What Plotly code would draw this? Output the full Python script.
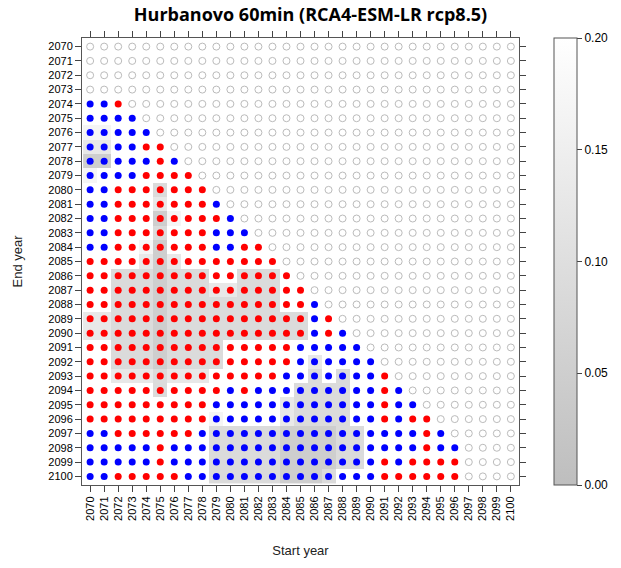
import plotly.graph_objects as go

# ---------------- data ----------------
years = list(range(2070, 2101))          # start years (x) and end years (y)
tick_labels = [str(y) for y in years]
cbar_ticks = [0.00, 0.05, 0.10, 0.15, 0.20]

# sign of the trend for each tested window; one string per end year,
# characters run over start years 2070, 2071, ...  (B = blue, R = red)
trend_sign = {
    2074: "BBR",
    2075: "BBBB",
    2076: "BBBBB",
    2077: "BBBBRR",
    2078: "BBBBBRB",
    2079: "BBBBRRRR",
    2080: "BBRRRRRRR",
    2081: "BBRRRRRRRB",
    2082: "BBRRRRRRRRB",
    2083: "BBRRRRRRRBBB",
    2084: "BBRRRRRRRBBRR",
    2085: "RRRRRRRRRRRRRR",
    2086: "RRRRRRRRRRRRRRR",
    2087: "RRRRRRRRRRRRRRRR",
    2088: "RRRRRRRRRRRRRRRRB",
    2089: "RRRRRRRRRRRRRRRRBR",
    2090: "RRRRRRRRRRRRRRRRBRB",
    2091: "RRRRRRRRRRRRRRRBBBBB",
    2092: "RRRRRRRRRRRRRRRBBBBBB",
    2093: "RRRRRRRRRRRRRRBBBBBBBR",
    2094: "RRRRRRRRRRBRBBBBBBBBBRB",
    2095: "RRRRRRRRRBBBBBBBBBBBBRBB",
    2096: "RRRRRRRRRBBBBBBBBBBBBRBRR",
    2097: "BBRRRRRRBBBBBBBBBBBBBBBBRB",
    2098: "BBBBBRBBBBBBBBBBBBBBBBBBRBB",
    2099: "BBBBBRBBBBBBBBBBBBBBBRBRRRR",
    2100: "BBRRRRRBBBBBBBBBBBBBBRRRRRR",
}

# p-value class of each window (same layout as above)
p_class = {
    2074: "...",
    2075: "....",
    2076: "11...",
    2077: "22....",
    2078: "44.....",
    2079: "1.......",
    2080: ".....3...",
    2081: ".....2....",
    2082: ".....41....",
    2083: ".....3......",
    2084: "....14.......",
    2085: "....242.......",
    2086: "..3334333..333.",
    2087: "..333433322333..",
    2088: "..333433333333...",
    2089: "2233343333333333..",
    2090: "2233343333333333...",
    2091: "..33343333..........",
    2092: "..33343333......2....",
    2093: "..2223222.......3.3...",
    2094: ".....3.........3333....",
    2095: "..............23333.....",
    2096: ".........1....23333......",
    2097: ".........33333444433......",
    2098: ".........33333444433.......",
    2099: ".........33333444433.......",
    2100: ".........333334443..........",
}
p_level = {'.': 0.20, '1': 0.17, '2': 0.13, '3': 0.09, '4': 0.05, '5': 0.03}

# ---------------- build ----------------
z = []
for e in years:
    row = []
    signs = trend_sign.get(e, "")
    cls = p_class.get(e, "")
    for i, s in enumerate(years):
        if i < len(signs):
            row.append(p_level[cls[i]] if i < len(cls) else 0.2)
        else:
            row.append(None)
    z.append(row)

bx, by, rx, ry, ox, oy = [], [], [], [], [], []
for e in years:
    signs = trend_sign.get(e, "")
    for i, s in enumerate(years):
        if i < len(signs):
            if signs[i] == "B":
                bx.append(s); by.append(e)
            else:
                rx.append(s); ry.append(e)
        else:
            ox.append(s); oy.append(e)

FONT = "Liberation Sans, Arial"

fig = go.Figure()
fig.add_trace(go.Heatmap(
    x=years, y=years, z=z, zmin=0, zmax=0.2,
    colorscale=[[0, "#BEBEBE"], [1, "#FFFFFF"]],
    hoverinfo="skip",
    colorbar=dict(
        x=1.081, xanchor="left", y=0.5, yanchor="middle",
        len=1.0, lenmode="fraction", thickness=23,
        xpad=0, ypad=0,
        outlinecolor="#555555", outlinewidth=1,
        tickvals=cbar_ticks, tickformat=".2f",
        ticks="outside", ticklen=5, tickcolor="#444444",
        tickfont=dict(family=FONT, size=12, color="#000000"),
    ),
))
fig.add_trace(go.Scatter(x=ox, y=oy, mode="markers", hoverinfo="skip",
                         marker=dict(size=7, color="#BBBBBB", symbol="circle-open",
                                     line=dict(color="#BBBBBB", width=1))))
fig.add_trace(go.Scatter(x=bx, y=by, mode="markers", hoverinfo="skip",
                         marker=dict(size=7, color="#0000FF", line=dict(width=0))))
fig.add_trace(go.Scatter(x=rx, y=ry, mode="markers", hoverinfo="skip",
                         marker=dict(size=7, color="#FF0000", line=dict(width=0))))

axis_common = dict(
    tickmode="array", tickvals=years, ticktext=tick_labels,
    ticks="outside", ticklen=6, tickcolor="#444444",
    showline=True, linecolor="#555555", linewidth=1, mirror="ticks",
    showgrid=False, zeroline=False,
    tickfont=dict(family=FONT, size=11, color="#000000"),
)
fig.update_xaxes(range=[2069.42, 2100.58], tickangle=-90,
                 title=dict(text="Start year", standoff=26,
                            font=dict(family=FONT, size=13, color="#222222")),
                 **axis_common)
fig.update_yaxes(range=[2100.6, 2069.4],
                 title=dict(text="End year", standoff=22,
                            font=dict(family=FONT, size=13, color="#222222")),
                 **axis_common)

fig.update_layout(
    width=621, height=568,
    margin=dict(l=82, r=94, t=38, b=83),
    paper_bgcolor="white", plot_bgcolor="white",
    showlegend=False,
    title=dict(text="<b>Hurbanovo 60min (RCA4-ESM-LR rcp8.5)</b>",
               x=0.5, xanchor="center", y=0.975, yanchor="middle",
               font=dict(family="Open Sans, Liberation Sans", size=18, color="#000000")),
)
fig.write_html("out.html")
